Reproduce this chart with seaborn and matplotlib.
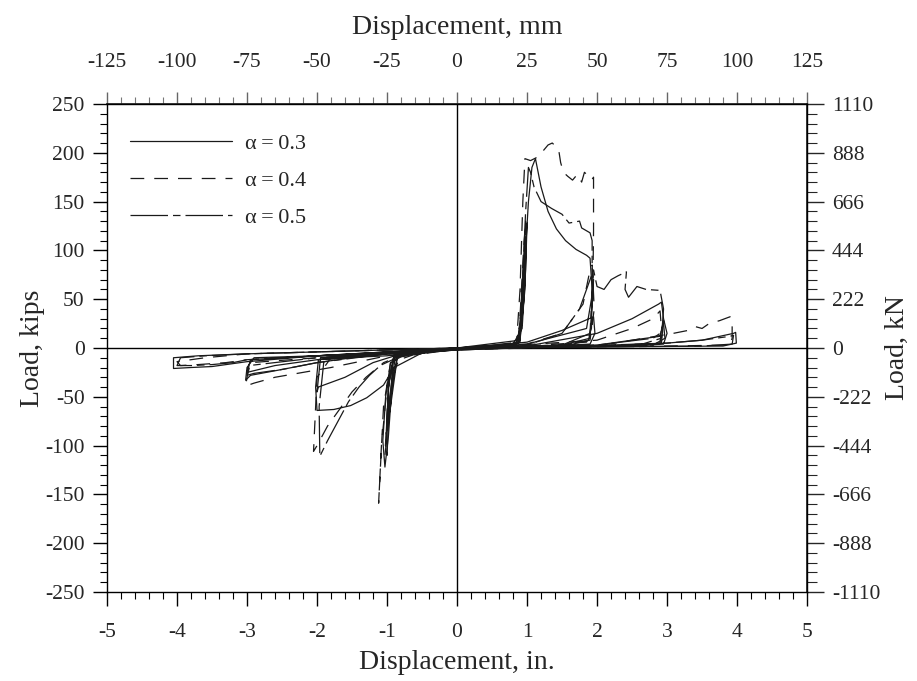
import matplotlib
matplotlib.use("Agg")
import matplotlib.pyplot as plt
from matplotlib.ticker import MultipleLocator, FixedLocator, FuncFormatter
from matplotlib.lines import Line2D
import seaborn as sns

# ---- hysteresis records (displacement in inches, load in kips) ----
# alpha = 0.3 (solid)
disp_a03 = [
    0.0, 0.4, 0.8, 0.4, 0.0, -0.4, -0.8, -0.4, 0.0,
    0.5, 0.85, 0.92, 0.97, 1.02, 1.07, 1.12, 1.2, 1.3, 1.42, 1.55, 1.7, 1.85, 1.9, 1.93, 1.92, 1.88, 1.6, 1.0, 0.5,
    0.0, -0.5, -0.85, -0.93, -0.98, -1.03, -1.06, -1.02, -0.95, -0.7, 0.0,
    0.5, 0.88, 0.93, 0.97, 1.0, 0.98, 0.93, 0.8, 0.0,
    -0.85, -0.95, -1.0, -0.97, -0.9, 0.0,
    0.5, 0.9, 0.95, 0.99, 0.97, 0.9, 0.0,
    -0.88, -0.96, -1.01, -0.98, -0.9, 0.0,
    1.0, 1.5, 1.95, 1.97, 1.9, 1.0, 0.0,
    -0.5, -1.0, -1.6, -1.98, -2.02, -2.0, -1.76, -1.52, -1.29, -1.05, -0.9, -0.5, 0.0,
    1.0, 1.85, 1.92, 1.95, 1.9, 1.5, 0.0,
    -1.0, -1.95, -2.0, -1.98, -1.6, -1.2, -0.8, 0.0,
    1.0, 2.0, 2.5, 2.88, 2.92, 2.95, 3.0, 2.95, 2.5, 0.0,
    -1.0, -2.0, -2.9, -3.0, -3.02, -2.95, -2.5, -2.0, -1.5, -1.0, 0.0,
    2.0, 2.9, 2.95, 2.92, 2.5, 0.0,
    -2.0, -2.95, -3.0, -2.6, -2.0, -1.0, 0.0,
    2.0, 3.0, 3.5, 3.95, 3.98, 3.99, 3.8, 2.0, 0.0,
    -2.0, -3.0, -3.7, -4.05, -4.05, -3.8, -3.5, -3.0, -2.0, -1.0, 0.0,
]
load_a03 = [
    0, 1, 3, 1, 0, -2, -5, -3, -1,
    1, 4, 30, 90, 150, 185, 194, 165, 140, 122, 110, 101, 95, 92, 60, 25, 8, 3, 1, 0,
    -1, -3, -7, -40, -90, -122, -95, -50, -15, -5, -2,
    1, 5, 60, 120, 128, 80, 20, 4, 0,
    -8, -60, -80, -30, -8, -1,
    1, 6, 80, 115, 60, 8, 0,
    -8, -50, -95, -40, -9, -1,
    6, 18, 32, 15, 4, 1, 0,
    -3, -8, -10, -12, -40, -64, -63, -59, -51, -38, -20, -5, -1,
    4, 20, 50, 70, 10, 3, 0,
    -6, -10, -45, -40, -30, -15, -6, -1,
    2, 15, 30, 45, 47, 30, 15, 4, 2, 0,
    -5, -8, -10, -20, -33, -28, -22, -15, -10, -6, -2,
    3, 12, 28, 5, 2, 0,
    -8, -12, -25, -18, -12, -5, -1,
    2, 5, 8, 15, 16, 5, 2, 1, 0,
    -4, -6, -8, -10, -21, -20, -19, -14, -8, -4, -1,
]

# alpha = 0.4 (dashed)
disp_a04 = [
    0.0, 0.4, 0.8, 0.0, -0.5, -0.85, 0.0,
    0.5, 0.85, 0.9, 0.94, 0.97, 1.05, 1.16, 1.3, 1.36, 1.45, 1.48, 1.52, 1.58, 1.65, 1.72, 1.78, 1.82, 1.88, 1.92, 1.95, 1.95, 1.94, 1.92, 1.85, 1.0, 0.0,
    -0.5, -0.9, -1.0, -1.08, -1.12, -1.1, -1.05, -0.95, -0.5, 0.0,
    0.88, 0.95, 0.98, 0.96, 0.85, 0.0,
    -0.9, -1.0, -1.03, -0.98, -0.8, 0.0,
    1.0, 1.5, 1.8, 1.9, 1.93, 1.96, 1.9, 1.5, 0.0,
    -1.0, -1.8, -2.0, -2.05, -2.0, -1.85, -1.7, -1.5, -1.3, -1.1, -0.8, 0.0,
    2.0, 2.5, 2.8, 2.9, 2.92, 2.9, 2.0, 0.0,
    -2.0, -2.95, -3.0, -3.02, -2.9, -2.6, -2.2, -1.8, -1.0, 0.0,
    2.0, 3.09, 3.3, 3.4, 3.5, 3.6, 3.75, 3.9, 3.93, 3.93, 3.9, 3.0, 0.0,
    -3.0, -3.6, -4.0, -3.95, -3.7, -3.3, -3.0, -2.0, 0.0,
]
load_a04 = [
    0, 1, 2, 0, -3, -6, -1,
    1, 5, 60, 150, 194, 192, 196, 208, 210, 204, 190, 180, 176, 172, 178, 170, 180, 176, 172, 175, 120, 60, 20, 6, 2, 0,
    -3, -8, -40, -100, -159, -130, -60, -15, -4, -1,
    6, 100, 130, 50, 5, 0,
    -7, -90, -110, -40, -6, -1,
    4, 15, 45, 80, 85, 40, 8, 3, 0,
    -6, -10, -30, -106, -100, -80, -65, -45, -30, -18, -8, -1,
    8, 20, 30, 38, 20, 5, 2, 0,
    -10, -15, -30, -39, -36, -30, -25, -20, -8, -2,
    2, 15, 18, 22, 20, 25, 28, 32, 30, 10, 3, 2, 0,
    -6, -10, -14, -18, -17, -15, -12, -8, -2,
]

# alpha = 0.5 (dash-dot)
disp_a05 = [
    0.0, 0.5, 0.85, 0.0, -0.5, -0.8, 0.0,
    0.88, 0.93, 0.98, 1.02, 1.05, 1.1, 1.2, 1.35, 1.5, 1.6, 1.75, 1.78, 1.9, 1.93, 1.93, 1.9, 1.5, 0.0,
    -0.9, -0.97, -1.0, -1.02, -0.98, -0.9, 0.0,
    1.0, 1.5, 1.75, 1.85, 1.95, 2.0, 2.1, 2.2, 2.3, 2.42, 2.4, 2.45, 2.57, 2.7, 2.9, 2.95, 2.92, 2.6, 1.0, 0.0,
    -1.0, -1.9, -1.97, -1.96, -1.85, -1.7, -1.55, -1.4, -1.25, -1.05, -0.7, 0.0,
    2.0, 2.8, 2.9, 2.95, 2.97, 2.8, 0.0,
    -2.0, -2.97, -3.0, -2.9, -2.5, -2.0, -1.0, 0.0,
    3.0, 3.5, 3.9, 3.95, 3.93, 3.5, 0.0,
    -3.0, -3.6, -3.95, -4.0, -3.8, -3.5, -3.2, -3.0, -2.0, 0.0,
]
load_a05 = [
    0, 1, 3, 0, -2, -5, -1,
    5, 60, 140, 185, 180, 165, 150, 143, 137, 128, 130, 123, 118, 110, 60, 15, 3, 0,
    -8, -60, -110, -100, -40, -10, -1,
    3, 15, 40, 60, 80, 63, 60, 70, 74, 78, 60, 52, 63, 60, 59, 40, 10, 3, 1, 0,
    -6, -12, -60, -111, -95, -75, -55, -40, -28, -15, -5, -1,
    3, 10, 15, 25, 10, 3, 0,
    -10, -18, -28, -26, -22, -15, -6, -2,
    5, 8, 12, 13, 4, 2, 0,
    -6, -8, -10, -18, -18, -17, -15, -12, -8, -2,
]

# axis tick values
inch_ticks = [-5, -4, -3, -2, -1, 0, 1, 2, 3, 4, 5]
mm_ticks = [-125, -100, -75, -50, -25, 0, 25, 50, 75, 100, 125]
kips_ticks = [-250, -200, -150, -100, -50, 0, 50, 100, 150, 200, 250]
kn_ticks = [-1110, -888, -666, -444, -222, 0, 222, 444, 666, 888, 1110]

series_labels = ["α\u2009=\u20090.3", "α\u2009=\u20090.4", "α\u2009=\u20090.5"]
series_dashes = ["-", (0, (11, 8)), (0, (30, 4, 6, 4))]

sns.set_theme(style="white")
plt.rcParams["font.family"] = ["Liberation Serif", "DejaVu Serif"]
plt.rcParams["axes.unicode_minus"] = False

fig = plt.figure(figsize=(9.17, 6.81), dpi=100)
ax = fig.add_axes([0.1167, 0.1307, 0.7634, 0.7166])

ink = "#1a1a1a"
for xs, ys, ls in zip([disp_a03, disp_a04, disp_a05],
                      [load_a03, load_a04, load_a05],
                      series_dashes):
    sns.lineplot(x=xs, y=ys, sort=False, estimator=None, color=ink,
                 linewidth=0.9, linestyle=ls, ax=ax, legend=False)

# zero reference lines
ax.axhline(0, color="black", lw=1.0, zorder=1)
ax.axvline(0, color="black", lw=1.0, zorder=1)

ax.set_xlim(-5, 5)
ax.set_ylim(-250, 250)
for s in ax.spines.values():
    s.set_color("black")
    s.set_linewidth(1.0)

tick_fs = 15.5
label_fs = 20
ax.set_xticks(inch_ticks)
ax.set_yticks(kips_ticks)
ax.set_xticklabels([f"{v:d}" for v in inch_ticks])
ax.set_yticklabels([f"{v:d}" for v in kips_ticks])
ax.xaxis.set_minor_locator(MultipleLocator(0.2))
ax.yaxis.set_minor_locator(MultipleLocator(10))
ax.tick_params(axis="both", which="major", direction="out", length=10,
               width=1.0, color="black", labelsize=tick_fs,
               bottom=True, left=True, top=False, right=False)
ax.tick_params(axis="x", which="major", pad=12)
ax.tick_params(axis="y", which="major", pad=6)
ax.tick_params(axis="both", which="minor", direction="out", length=5,
               width=0.8, color="black", bottom=True, left=True)

# secondary scales: millimetres on top, kilonewtons on the right
top = ax.secondary_xaxis("top", functions=(lambda x: x * 25, lambda x: x / 25))
top.xaxis.set_major_locator(FixedLocator(mm_ticks))
top.xaxis.set_minor_locator(FixedLocator(list(range(-125, 126, 5))))
top.xaxis.set_major_formatter(FuncFormatter(lambda v, p: f"{round(v):d}"))
top.tick_params(which="major", direction="out", length=9, width=1.0,
                color="#666666", labelsize=tick_fs, pad=14)
top.tick_params(which="minor", direction="out", length=5, width=0.8,
                color="#777777")
top.set_xlabel("Displacement, mm", fontsize=label_fs, labelpad=14)

right = ax.secondary_yaxis("right", functions=(lambda y: y * 4.44, lambda y: y / 4.44))
right.yaxis.set_major_locator(FixedLocator(kn_ticks))
right.yaxis.set_minor_locator(FixedLocator([k * 44.4 for k in range(-25, 26)]))
right.yaxis.set_major_formatter(FuncFormatter(lambda v, p: f"{round(v):d}"))
right.tick_params(which="major", direction="out", length=12, width=1.0,
                  labelsize=tick_fs, pad=6)
right.tick_params(which="minor", direction="out", length=7, width=0.8)
right.set_ylabel("Load, kN", fontsize=label_fs, labelpad=3)

ax.set_xlabel("Displacement, in.", fontsize=label_fs, labelpad=6)
ax.set_ylabel("Load, kips", fontsize=label_fs, labelpad=0)

handles = [Line2D([], [], color=ink, lw=0.9, linestyle=ls) for ls in series_dashes]
ax.legend(handles, series_labels, loc="upper left", bbox_to_anchor=(0.033, 0.94),
          frameon=False, fontsize=16, handlelength=4.6, handletextpad=0.55,
          labelspacing=0.75, borderpad=0, borderaxespad=0)

fig.savefig("out.png", dpi=100)
